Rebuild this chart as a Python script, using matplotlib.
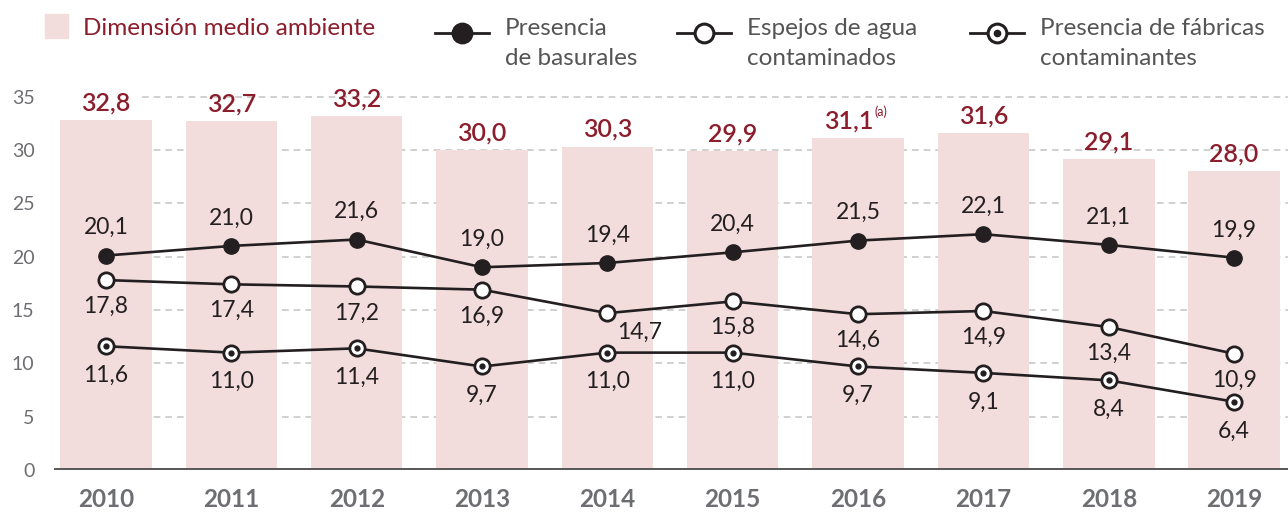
import matplotlib
matplotlib.use("Agg")
import matplotlib.pyplot as plt
from matplotlib.lines import Line2D
from matplotlib.patches import Rectangle
import numpy as np

plt.rcParams['font.family'] = ['Lato', 'DejaVu Sans']

years = ['2010', '2011', '2012', '2013', '2014', '2015', '2016', '2017', '2018', '2019']
dimension = [32.8, 32.7, 33.2, 30.0, 30.3, 29.9, 31.1, 31.6, 29.1, 28.0]
basurales = [20.1, 21.0, 21.6, 19.0, 19.4, 20.4, 21.5, 22.1, 21.1, 19.9]
espejos = [17.8, 17.4, 17.2, 16.9, 14.7, 15.8, 14.6, 14.9, 13.4, 10.9]
fabricas = [11.6, 11.0, 11.4, 9.7, 11.0, 11.0, 9.7, 9.1, 8.4, 6.4]
yticks = [0, 5, 10, 15, 20, 25, 30, 35]

BAR = '#f2dcdc'
RED = '#8b1d2c'
INK = '#231f20'
GRAY = '#6d6e71'
LEG = '#555555'


def fmt(v):
    return '{:.1f}'.format(v).replace('.', ',')


W, H = 1288.0, 513.0
fig = plt.figure(figsize=(12.88, 5.13), dpi=100)
ax = fig.add_axes([54 / W, 43 / H, 1 - 54 / W, 390 / H])
x = np.arange(len(years))

ax.set_xlim(-0.415, 9.43)
ax.set_ylim(0, 36.55)

# dashed grid behind the bars
for t in yticks[1:]:
    ax.plot([0.29, 9.43], [t, t], color='#c8c8c8', lw=1.2, ls=(0, (4, 3)), zorder=0)

ax.bar(x, dimension, width=0.73, color=BAR, zorder=1)
ax.axhline(0, color='#5a5a5a', lw=3.6, zorder=3)

for xi, v in zip(x, dimension):
    if years[xi] == '2016':
        ax.annotate(fmt(v), (xi, v), xytext=(-6.5, 7), textcoords='offset points',
                    ha='center', va='baseline', color=RED, fontsize=18, fontweight='semibold')
        ax.annotate('(a)', (xi, v), xytext=(11.5, 16), textcoords='offset points',
                    ha='left', va='baseline', color=RED, fontsize=9)
    else:
        ax.annotate(fmt(v), (xi, v), xytext=(0, 7), textcoords='offset points',
                    ha='center', va='baseline', color=RED, fontsize=18, fontweight='semibold')

ms = 11
ax.plot(x, basurales, color=INK, lw=1.9, marker='o', ms=ms, mfc=INK, mec=INK, zorder=4)
ax.plot(x, espejos, color=INK, lw=1.9, marker='o', ms=ms, mfc='white', mec=INK, mew=2, zorder=4)
ax.plot(x, fabricas, color=INK, lw=1.9, marker='o', ms=ms, mfc='white', mec=INK, mew=2, zorder=4)
ax.plot(x, fabricas, ls='none', marker='o', ms=3.5, mfc=INK, mec=INK, zorder=5)

for xi, v in zip(x, basurales):
    ax.annotate(fmt(v), (xi, v), xytext=(0, 20), textcoords='offset points',
                ha='center', va='center', color=INK, fontsize=16.5)
for xi, v in zip(x, espejos):
    off = (23, -14) if years[xi] == '2014' else (0, -19)
    ax.annotate(fmt(v), (xi, v), xytext=off, textcoords='offset points',
                ha='center', va='center', color=INK, fontsize=16.5)
for xi, v in zip(x, fabricas):
    ax.annotate(fmt(v), (xi, v), xytext=(0, -21), textcoords='offset points',
                ha='center', va='center', color=INK, fontsize=16.5)

ax.set_xticks(x)
ax.set_xticklabels(years, fontsize=17.5, fontweight='bold', color=GRAY)
ax.set_yticks(yticks)
ax.set_yticklabels([str(t) for t in yticks], fontsize=14, color=GRAY)
ax.tick_params(axis='x', length=0, pad=13)
ax.tick_params(axis='y', length=0, pad=14)
for s in ax.spines.values():
    s.set_visible(False)


# legend placed in pixel coordinates of the figure
def fx(px):
    return px / W


def fy(py):
    return 1 - py / H


fig.add_artist(Rectangle((fx(45), fy(38)), 23 / W, 24 / H, color=BAR,
                         transform=fig.transFigure))
fig.text(fx(83), fy(35), 'Dimensión medio ambiente', color=RED, fontsize=17.5, va='baseline')

legend_items = [
    (435, ['Presencia', 'de basurales'], INK, None),
    (677, ['Espejos de agua', 'contaminados'], 'white', None),
    (970, ['Presencia de fábricas', 'contaminantes'], 'white', INK),
]
for px, lines, face, dot in legend_items:
    fig.add_artist(Line2D([fx(px), fx(px + 54)], [fy(33), fy(33)], color=INK, lw=2,
                          transform=fig.transFigure))
    fig.add_artist(Line2D([fx(px + 27)], [fy(33)], marker='o', ms=13.5, mfc=face, mec=INK,
                          mew=2.2, transform=fig.transFigure))
    if dot is not None:
        fig.add_artist(Line2D([fx(px + 27)], [fy(33)], marker='o', ms=4.5, mfc=dot, mec=dot,
                              transform=fig.transFigure))
    for k, line in enumerate(lines):
        fig.text(fx(px + 70), fy(35 + 30 * k), line, color=LEG, fontsize=17.5, va='baseline')

fig.savefig('out.png', dpi=100)
